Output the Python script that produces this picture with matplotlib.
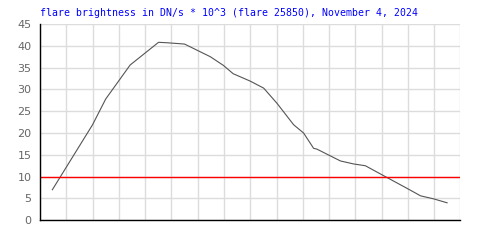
import matplotlib
matplotlib.use("Agg")
import matplotlib.pyplot as plt

# flare brightness (DN/s * 10^3), x in grid-column units (16 columns)
t = [0.47, 2.0, 2.5, 3.43, 4.51, 4.83, 5.50, 6.48, 6.98, 7.35, 8.0, 8.51, 9.02,
     9.65, 10.03, 10.41, 10.54, 11.43, 11.94, 12.38, 13.08, 13.97, 14.48, 14.98, 15.49]
flux = [7.0, 21.9, 27.8, 35.6, 40.8, 40.7, 40.4, 37.5, 35.5, 33.6, 31.9, 30.3, 26.8,
        21.9, 20.0, 16.5, 16.3, 13.6, 12.9, 12.5, 10.2, 7.3, 5.6, 4.9, 4.0]
threshold = 10
yticks = [0, 5, 10, 15, 20, 25, 30, 35, 40, 45]
title = "flare brightness in DN/s * 10^3 (flare 25850), November 4, 2024"

fig = plt.figure(figsize=(5, 2.5), dpi=100)
ax = fig.add_axes([0.08, 0.119, 0.841, 0.785])

ax.plot(t, flux, color='#555555', lw=0.8)
ax.axhline(threshold, color='red', lw=1.0)

ax.set_xlim(0, 16)
ax.set_ylim(0, 45)
ax.set_xticks(range(0, 17))
ax.set_xticklabels([])
ax.set_yticks(yticks)
ax.set_yticklabels([str(v) for v in yticks], color='#666666', fontsize=8)
ax.tick_params(length=0, pad=6)
ax.grid(True, color='#dcdcdc', lw=1.0)
ax.set_axisbelow(True)

for s in ['top', 'right']:
    ax.spines[s].set_visible(False)
for s in ['left', 'bottom']:
    ax.spines[s].set_color('black')
    ax.spines[s].set_linewidth(1.0)

fig.text(0.08, 0.948, title, color='blue', fontsize=7.15,
         family='DejaVu Sans Mono', ha='left', va='center')

fig.savefig('out.png', dpi=100)
